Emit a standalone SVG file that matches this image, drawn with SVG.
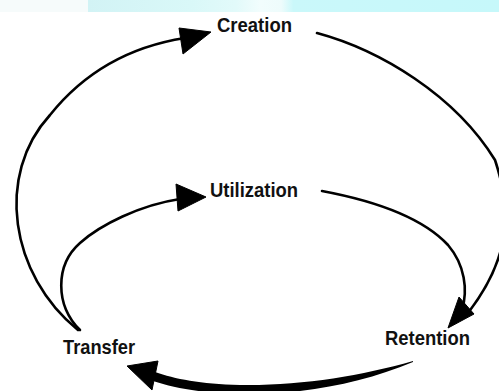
<svg xmlns="http://www.w3.org/2000/svg" width="499" height="391" viewBox="0 0 499 391">
  <style>
    .lbl { font-family: "Liberation Sans Narrow", "Liberation Sans", Arial, sans-serif; font-weight: bold; font-size: 21px; fill: #111; }
    .ln { fill: none; stroke: #000; stroke-width: 2.6; stroke-linecap: round; stroke-linejoin: round; }
    .head { fill: #000; stroke: #000; stroke-width: 1; stroke-linejoin: round; }
  </style>
  <defs>
    <linearGradient id="band" x1="0" y1="0" x2="1" y2="0">
      <stop offset="0" stop-color="#d2f3f5"/>
      <stop offset="0.25" stop-color="#d9f8f8"/>
      <stop offset="0.36" stop-color="#e2fafa"/>
      <stop offset="0.42" stop-color="#f2fdfd"/>
      <stop offset="0.47" stop-color="#eefcfc"/>
      <stop offset="0.5" stop-color="#caf8fa"/>
      <stop offset="1" stop-color="#c6f8fa"/>
    </linearGradient>
  </defs>
  <rect x="0" y="0" width="499" height="391" fill="#ffffff"/>
  <rect x="0" y="0" width="88" height="12" fill="#f6fbfb"/>
  <rect x="88" y="0" width="411" height="12" fill="url(#band)"/>

  <g id="connectors">
    <!-- outer loop: Transfer -> Creation -->
    <path class="ln" d="M78,330 C10,275 -5,175 50,115 C90,65 140,45 185,38"/>
    <polygon class="head" points="179,28 183,54 211,32"/>
    <!-- outer loop: Creation -> Retention -->
    <path class="ln" d="M317,33 C380,50 455,95 495,160 C515,220 505,265 468,313"/>
    <!-- inner loop: Transfer -> Utilization -->
    <path class="ln" d="M80,330 C55,305 55,265 80,243 C100,225 140,205 180,199"/>
    <polygon class="head" points="176,184 178,211 206,197"/>
    <!-- inner loop: Utilization -> Retention -->
    <path class="ln" d="M322,191 C370,200 420,215 448,245 C465,265 468,290 462,310"/>
    <polygon class="head" points="448,328 459,297 474,314"/>
    <!-- bottom: Retention -> Transfer -->
    <path fill="#000" d="M413,361 C360,376 300,386 240,385 C200,384 175,379 155,372 L153,381 C175,388 200,393 240,394 C300,395 360,384 413,362 Z"/>
    <polygon class="head" points="127,366 158,361 152,390"/>
  </g>

  <g id="creation"><text class="lbl" x="217" y="32" textLength="75" lengthAdjust="spacingAndGlyphs">Creation</text></g>
  <g id="utilization"><text class="lbl" x="210" y="197" textLength="88" lengthAdjust="spacingAndGlyphs">Utilization</text></g>
  <g id="retention"><text class="lbl" x="385" y="345" textLength="85" lengthAdjust="spacingAndGlyphs">Retention</text></g>
  <g id="transfer"><text class="lbl" x="63" y="354" textLength="72" lengthAdjust="spacingAndGlyphs">Transfer</text></g>
</svg>
